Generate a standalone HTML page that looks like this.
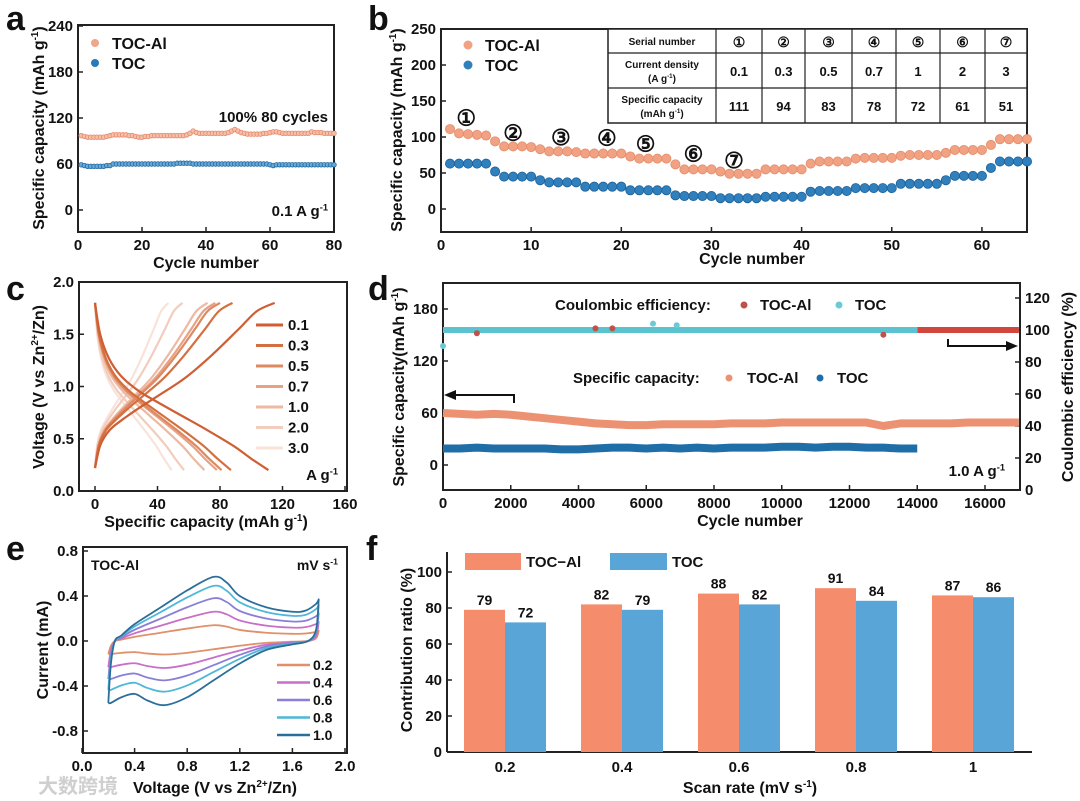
<!DOCTYPE html>
<html><head><meta charset="utf-8"><style>
html,body{margin:0;padding:0;background:#fff;}
svg{display:block;font-family:"Liberation Sans",Arial,sans-serif;}
text{font-weight:bold;}
</style></head><body>
<svg id="fig" width="1080" height="801" viewBox="0 0 1080 801" xmlns="http://www.w3.org/2000/svg"></svg>
<script>
// ---------- DATA ----------
const aCycles = Array.from({length:80},(_,i)=>i+1);
const aTocAl = [97,96,95,95,95,95,95,95,96,97,98,98,98,98,98,97,97,96,95,95,96,96,97,97,97,97,97,97,97,97,97,97,97,98,100,103,101,100,100,100,100,100,100,100,100,100,101,103,105,103,101,100,99,99,99,99,99,100,100,101,102,102,101,100,100,100,100,100,100,100,100,100,102,101,101,101,100,100,100,100];
const aToc = [59,58,57,57,57,57,57,57,58,58,60,60,60,60,60,60,60,60,60,60,60,60,60,60,60,60,60,60,60,60,61,61,61,61,61,60,60,60,60,60,60,60,60,60,60,60,60,60,60,60,60,60,60,60,60,60,60,60,60,59,58,59,59,59,59,59,59,59,59,59,59,59,59,59,59,59,59,59,59,59];
const aYTicks = [0,60,120,180,240];
const aXTicks = [0,20,40,60,80];

const bTocAl = [111,105,104,103,102,94,87,87,87,86,83,80,80,80,79,77,77,77,77,77,73,70,70,70,70,62,55,55,55,55,52,49,49,49,49,55,55,55,55,55,63,66,66,66,66,70,71,71,71,71,74,75,75,75,75,78,82,82,82,82,89,97,97,97,97];
const bToc = [63,63,63,63,63,52,45,45,45,45,40,37,37,37,37,31,31,31,31,31,26,26,26,26,26,19,18,18,18,18,15,15,15,15,15,17,17,17,17,17,24,25,25,25,25,29,29,29,29,29,35,35,35,35,35,40,46,46,46,46,57,66,66,66,66];
const bYTicks = [0,50,100,150,200,250];
const bXTicks = [0,10,20,30,40,50,60];
const bMarkLabels = ['①','②','③','④','⑤','⑥','⑦'];
const bMarkX = [2.8,8,13.3,18.4,22.7,28,32.5];
const bMarkY = [127,106,100,99,91,77,68];
const tblDensity = ['0.1','0.3','0.5','0.7','1','2','3'];
const tblCapacity = ['111','94','83','78','72','61','51'];

const cRates = ['0.1','0.3','0.5','0.7','1.0','2.0','3.0'];
const cDisCap = [111,87,81,78,70,57,49];
const cChgCap = [115,88,80,77,72,56,47];
const cFrac = [0,0.03,0.08,0.15,0.25,0.35,0.5,0.65,0.8,0.9,1];
const cDisV = [1.8,1.5,1.27,1.1,0.96,0.86,0.72,0.58,0.43,0.31,0.2];
const cChgV = [0.22,0.44,0.58,0.68,0.8,0.91,1.08,1.3,1.55,1.72,1.8];
const cXTicks = [0,40,80,120,160];
const cYTicks = [0,0.5,1.0,1.5,2.0];

const dCycles = Array.from({length:35},(_,i)=>i*500);
const dTocAl = [60,59,58,59,58,56,54,52,50,48,47,46,46,47,47,47,47,48,48,48,49,49,49,49,49,49,45,48,48,48,48,49,49,49,49];
const dToc = [19,19,20,19,19,19,19,18,18,19,20,20,19,20,19,20,19,20,20,20,21,21,20,21,21,20,20,19,19];
const dCeTocCycles = [0,14000];
const dCeToc = [100,100];
const dCeTocAlCycles = [14000,17000];
const dCeTocAl = [100,100];
const dOutX = [1000,13000,4500,5000];
const dOutY = [98,97,101,101];
const dOutTocX = [6200,6900,0];
const dOutTocY = [104,103,90];
const dXTicks = [0,2000,4000,6000,8000,10000,12000,14000,16000];
const dYTicks = [0,60,120,180];
const dY2Ticks = [0,20,40,60,80,100,120];

const eRates = ['0.2','0.4','0.6','0.8','1.0'];
const eAnodicPeak = [0.14,0.26,0.38,0.49,0.57];
const eCathodicPeak = [0.12,0.24,0.35,0.45,0.57];
const eUpV = [0.2,0.22,0.25,0.3,0.4,0.6,0.8,1.0,1.1,1.2,1.4,1.6,1.7,1.78,1.8];
const eUpI = [-0.55,-0.2,0.0,0.05,0.15,0.3,0.45,0.57,0.52,0.4,0.3,0.26,0.27,0.33,0.37];
const eDnV = [1.8,1.78,1.72,1.6,1.4,1.2,1.0,0.8,0.63,0.5,0.4,0.3,0.22,0.2];
const eDnI = [0.37,0.1,0.0,-0.03,-0.08,-0.2,-0.35,-0.5,-0.57,-0.53,-0.47,-0.5,-0.55,-0.55];
const eXTicks = [0.0,0.4,0.8,1.2,1.6,2.0];
const eYTicks = [-0.8,-0.4,0.0,0.4,0.8];

const fRates = ['0.2','0.4','0.6','0.8','1'];
const fTocAl = [79,82,88,91,87];
const fToc = [72,79,82,84,86];
const fYTicks = [0,20,40,60,80,100];

// ---------- HELPERS ----------
const svg = document.getElementById('fig');
const NS = 'http://www.w3.org/2000/svg';
function mk(tag, attrs, name, parent){
  const el = document.createElementNS(NS, tag);
  for (const k in attrs) el.setAttribute(k, attrs[k]);
  
  
  (parent||svg).appendChild(el);
  return el;
}
function txt(x,y,s,size,name,anchor,extra){
  const t = mk('text', Object.assign({x:x,y:y,'font-size':size,'text-anchor':anchor||'middle',fill:'#111'}, extra||{}), name);
  t.textContent = s;
  return t;
}
function supTxt(x,y,parts,size,name,anchor,rot){
  const a = {x:x,y:y,'font-size':size,'text-anchor':anchor||'middle',fill:'#111'};
  if (rot) a.transform = 'rotate(-90 '+x+' '+y+')';
  const t = mk('text', a, name);
  parts.forEach(p=>{
    const s = document.createElementNS(NS,'tspan');
    s.textContent = p[0];
    if (p[1]) { s.setAttribute('font-size', size*0.62); s.setAttribute('dy', -size*0.38); }
    else if (p[2]) { s.setAttribute('dy', size*0.38); }
    t.appendChild(s);
  });
  return t;
}
function lin(d0,d1,p0,p1){ return v => p0 + (v-d0)*(p1-p0)/(d1-d0); }
function smooth(pts){
  let d='M'+pts[0][0]+','+pts[0][1];
  for(let i=0;i<pts.length-1;i++){
    const p0=pts[Math.max(0,i-1)],p1=pts[i],p2=pts[i+1],p3=pts[Math.min(pts.length-1,i+2)];
    const c1=[p1[0]+(p2[0]-p0[0])/6,p1[1]+(p2[1]-p0[1])/6];
    const c2=[p2[0]-(p3[0]-p1[0])/6,p2[1]-(p3[1]-p1[1])/6];
    d+=' C'+c1[0]+','+c1[1]+' '+c2[0]+','+c2[1]+' '+p2[0]+','+p2[1];
  }
  return d;
}
function frame(x0,y0,x1,y1,name){
  mk('rect',{x:x0,y:y0,width:x1-x0,height:y1-y0,fill:'none',stroke:'#222','stroke-width':2},name);
}
function xTicks(ticks,X,yb,name,fmt){
  ticks.forEach(t=>{
    mk('line',{x1:X(t),x2:X(t),y1:yb,y2:yb-5,stroke:'#222','stroke-width':1.5},name+'-tick');
    txt(X(t),yb+18,fmt?fmt(t):String(t),15,name+'-label');
  });
}
function yTicks(ticks,Y,xl,name,fmt,right){
  ticks.forEach(t=>{
    mk('line',{x1:xl,x2:right?xl-5:xl+5,y1:Y(t),y2:Y(t),stroke:'#222','stroke-width':1.5},name+'-tick');
    txt(right?xl+5:xl-5,Y(t)+5,fmt?fmt(t):String(t),15,name+'-label',right?'start':'end');
  });
}
function panelLetter(x,y,s){ txt(x,y,s,34,'panel-label-'+s,'start'); }

// ---------- PANEL A ----------
(function(){
  const X = lin(0,80,78,334), Y = lin(0,60,210,164);
  frame(78,25,334,232,'panel-a-frame');
  xTicks(aXTicks,X,232,'panel-a-x-tick');
  yTicks(aYTicks,Y,78,'panel-a-y-tick');
  aTocAl.forEach((v,i)=>mk('circle',{cx:X(aCycles[i]),cy:Y(v),r:2.3,fill:'#f6c0a8',stroke:'#e8876a','stroke-width':0.8},'panel-a-tocal-point'));
  aToc.forEach((v,i)=>mk('circle',{cx:X(aCycles[i]),cy:Y(v),r:2.3,fill:'#6aa8d6',stroke:'#1f6aa5','stroke-width':0.8},'panel-a-toc-point'));
  mk('circle',{cx:95,cy:43,r:4,fill:'#f0a68a'},'panel-a-legend-tocal-marker');
  txt(112,49,'TOC-Al',16,'panel-a-legend-tocal','start');
  mk('circle',{cx:95,cy:63,r:4,fill:'#2a7ab8'},'panel-a-legend-toc-marker');
  txt(112,69,'TOC',16,'panel-a-legend-toc','start');
  txt(328,122,'100% 80 cycles',15,'panel-a-annotation','end');
  supTxt(328,216,[['0.1 A g'],['-1',1]],15,'panel-a-current-label','end');
  supTxt(44,128,[['Specific capacity (mAh g'],['-1',1],[')',0,1]],16,'panel-a-y-axis-title','middle',true);
  txt(206,268,'Cycle number',16,'panel-a-x-axis-title');
  panelLetter(6,30,'a');
})();

// ---------- PANEL B ----------
(function(){
  const X = lin(0,65,441,1027), Y = lin(0,50,209,173);
  frame(441,29,1027,232,'panel-b-frame');
  xTicks(bXTicks,X,232,'panel-b-x-tick');
  yTicks(bYTicks,Y,441,'panel-b-y-tick');
  bTocAl.forEach((v,i)=>mk('circle',{cx:X(i+1),cy:Y(v),r:4.6,fill:'#f0a283',stroke:'#e58c6a','stroke-width':0.8},'panel-b-tocal-point'));
  bToc.forEach((v,i)=>mk('circle',{cx:X(i+1),cy:Y(v),r:4.6,fill:'#2f80bd',stroke:'#1d6099','stroke-width':0.8},'panel-b-toc-point'));
  bMarkLabels.forEach((s,i)=>txt(X(bMarkX[i]),Y(bMarkY[i])+8,s,22,'panel-b-step-marker',null,{'font-weight':'normal'}));
  mk('circle',{cx:468,cy:45,r:4.5,fill:'#f0a283'},'panel-b-legend-tocal-marker');
  txt(485,51,'TOC-Al',16,'panel-b-legend-tocal','start');
  mk('circle',{cx:468,cy:65,r:4.5,fill:'#2f80bd'},'panel-b-legend-toc-marker');
  txt(485,71,'TOC',16,'panel-b-legend-toc','start');
  const cols=[608,716,762,805,852,896,940,985,1027], rows=[29,53,88,123];
  mk('rect',{x:608,y:29,width:419,height:94,fill:'#fff',stroke:'#222','stroke-width':1.5},'panel-b-table');
  cols.slice(1,-1).forEach(c=>mk('line',{x1:c,x2:c,y1:29,y2:123,stroke:'#222','stroke-width':1.2},'panel-b-table-col-line'));
  rows.slice(1,-1).forEach(r=>mk('line',{x1:608,x2:1027,y1:r,y2:r,stroke:'#222','stroke-width':1.2},'panel-b-table-row-line'));
  txt(662,45,'Serial number',10,'panel-b-table-header');
  txt(662,68,'Current density',10,'panel-b-table-header');
  supTxt(662,82,[['(A g'],['-1',1],[')',0,1]],10,'panel-b-table-header');
  txt(662,103,'Specific capacity',10,'panel-b-table-header');
  supTxt(662,117,[['(mAh g'],['-1',1],[')',0,1]],10,'panel-b-table-header');
  for(let i=0;i<7;i++){
    const cx=(cols[i+1]+cols[i+2])/2;
    txt(cx,47,bMarkLabels[i],14,'panel-b-table-serial',null,{'font-weight':'normal'});
    txt(cx,76,tblDensity[i],13,'panel-b-table-density');
    txt(cx,111,tblCapacity[i],13,'panel-b-table-capacity');
  }
  supTxt(402,130,[['Specific capacity (mAh g'],['-1',1],[')',0,1]],16,'panel-b-y-axis-title','middle',true);
  txt(752,264,'Cycle number',16,'panel-b-x-axis-title');
  panelLetter(368,30,'b');
})();

// ---------- PANEL C ----------
(function(){
  const X = lin(0,160,95,345), Y = lin(0,2,491,282);
  const cols=['#cf5f33','#d4703f','#dd8a63','#e6a283','#ecb9a2','#f2cdbd','#f8e3da'];
  for(let k=cRates.length-1;k>=0;k--){
    let p=cFrac.map((f,i)=>[X(f*cDisCap[k]),Y(cDisV[i])]);
    mk('path',{d:smooth(p),fill:'none',stroke:cols[k],'stroke-width':2.2},'panel-c-discharge-'+cRates[k]);
    p=cFrac.map((f,i)=>[X(f*cChgCap[k]),Y(cChgV[i])]);
    mk('path',{d:smooth(p),fill:'none',stroke:cols[k],'stroke-width':2.2},'panel-c-charge-'+cRates[k]);
  }
  frame(79,282,347,491,'panel-c-frame');
  xTicks(cXTicks,X,491,'panel-c-x-tick');
  yTicks(cYTicks,Y,79,'panel-c-y-tick',t=>t.toFixed(1));
  cRates.forEach((r,i)=>{
    const y=325+i*20.5;
    mk('line',{x1:256,x2:283,y1:y,y2:y,stroke:cols[i],'stroke-width':3},'panel-c-legend-line');
    txt(288,y+5,r,15,'panel-c-legend-label','start');
  });
  supTxt(338,480,[['A g'],['-1',1]],15,'panel-c-unit-label','end');
  supTxt(44,387,[['Voltage (V vs Zn'],['2+',1],['/Zn)',0,1]],16,'panel-c-y-axis-title','middle',true);
  supTxt(206,527,[['Specific capacity (mAh g'],['-1',1],[')',0,1]],16,'panel-c-x-axis-title');
  panelLetter(6,300,'c');
})();

// ---------- PANEL D ----------
(function(){
  const X = lin(0,16000,443,985), Y = lin(0,60,465,413), Y2 = lin(0,120,490,298);
  frame(443,283,1020,490,'panel-d-frame');
  xTicks(dXTicks,X,490,'panel-d-x-tick');
  yTicks(dYTicks,Y,443,'panel-d-y-tick');
  yTicks(dY2Ticks,Y2,1020,'panel-d-y2-tick',null,true);
  mk('polyline',{points:dTocAl.map((v,i)=>X(dCycles[i])+','+Y(v)).join(' '),fill:'none',stroke:'#ec9273','stroke-width':8,'stroke-linejoin':'round'},'panel-d-capacity-tocal');
  mk('polyline',{points:dToc.map((v,i)=>X(dCycles[i])+','+Y(v)).join(' '),fill:'none',stroke:'#1f6ea8','stroke-width':8,'stroke-linejoin':'round'},'panel-d-capacity-toc');
  mk('polyline',{points:dCeTocAl.map((v,i)=>X(dCeTocAlCycles[i])+','+Y2(v)).join(' '),fill:'none',stroke:'#d2463d','stroke-width':6},'panel-d-ce-tocal');
  mk('polyline',{points:dCeToc.map((v,i)=>X(dCeTocCycles[i])+','+Y2(v)).join(' '),fill:'none',stroke:'#5bc2d0','stroke-width':6},'panel-d-ce-toc');
  dOutX.forEach((c,i)=>mk('circle',{cx:X(c),cy:Y2(dOutY[i]),r:3,fill:'#c0504a'},'panel-d-ce-tocal-outlier'));
  dOutTocX.forEach((c,i)=>mk('circle',{cx:X(c),cy:Y2(dOutTocY[i]),r:3,fill:'#6ccad6'},'panel-d-ce-toc-outlier'));
  mk('polyline',{points:'514,403 514,395 452,395',fill:'none',stroke:'#111','stroke-width':2},'panel-d-left-arrow');
  mk('polygon',{points:'444,395 456,390 456,400',fill:'#111'},'panel-d-left-arrowhead');
  mk('polyline',{points:'948,339 948,346 1008,346',fill:'none',stroke:'#111','stroke-width':2},'panel-d-right-arrow');
  mk('polygon',{points:'1018,346 1006,341 1006,351',fill:'#111'},'panel-d-right-arrowhead');
  txt(555,310,'Coulombic efficiency:',15,'panel-d-legend-ce-title','start');
  mk('circle',{cx:744,cy:305,r:3.5,fill:'#c0504a'},'panel-d-legend-ce-tocal-marker');
  txt(760,310,'TOC-Al',15,'panel-d-legend-ce-tocal','start');
  mk('circle',{cx:839,cy:305,r:3.5,fill:'#6ccad6'},'panel-d-legend-ce-toc-marker');
  txt(855,310,'TOC',15,'panel-d-legend-ce-toc','start');
  txt(573,383,'Specific capacity:',15,'panel-d-legend-cap-title','start');
  mk('circle',{cx:729,cy:378,r:3.5,fill:'#ec9273'},'panel-d-legend-cap-tocal-marker');
  txt(747,383,'TOC-Al',15,'panel-d-legend-cap-tocal','start');
  mk('circle',{cx:820,cy:378,r:3.5,fill:'#1f6ea8'},'panel-d-legend-cap-toc-marker');
  txt(837,383,'TOC',15,'panel-d-legend-cap-toc','start');
  supTxt(1005,476,[['1.0 A g'],['-1',1]],15,'panel-d-current-label','end');
  supTxt(404,387,[['Specific capacity(mAh g'],['-1',1],[')',0,1]],16,'panel-d-y-axis-title','middle',true);
  const t=txt(1067,387,'Coulombic efficiency (%)',16,'panel-d-y2-axis-title','middle',{transform:'rotate(-90 1067 387)'});
  t.setAttribute('dy','6');
  txt(750,526,'Cycle number',16,'panel-d-x-axis-title');
  panelLetter(368,300,'d');
})();

// ---------- PANEL E ----------
(function(){
  const X = lin(0,2,82,345), Y = lin(0,0.4,641,596);
  const cols=['#e0906a','#c86fc8','#8a7fd8','#4fb7d8','#2a6f9a'];
  eRates.forEach((r,k)=>{
    const sa=eAnodicPeak[k]/0.57, sc=eCathodicPeak[k]/0.57;
    const up=eUpV.map((v,i)=>[X(v),Y(eUpI[i]*(eUpI[i]>0?sa:sc))]);
    const dn=eDnV.map((v,i)=>[X(v),Y(eDnI[i]*(eDnI[i]>0?sa:sc))]);
    mk('path',{d:smooth(up)+' '+smooth(dn).replace('M','L'),fill:'none',stroke:cols[k],'stroke-width':1.8,'stroke-linejoin':'round'},'panel-e-cv-'+r);
    const y=665+k*17.5;
    mk('line',{x1:277,x2:310,y1:y,y2:y,stroke:cols[k],'stroke-width':2.5},'panel-e-legend-line');
    txt(313,y+5,r,14,'panel-e-legend-label','start');
  });
  frame(83,547,347,753,'panel-e-frame');
  xTicks(eXTicks,X,753,'panel-e-x-tick',t=>t.toFixed(1));
  yTicks(eYTicks,Y,83,'panel-e-y-tick',t=>t.toFixed(1));
  txt(91,570,'TOC-Al',14,'panel-e-sample-label','start');
  supTxt(338,570,[['mV s'],['-1',1]],14,'panel-e-unit-label','end');
  txt(42,650,'Current (mA)',16,'panel-e-y-axis-title','middle',{transform:'rotate(-90 42 650)'}).setAttribute('dy','6');
  supTxt(215,793,[['Voltage (V vs Zn'],['2+',1],['/Zn)',0,1]],16,'panel-e-x-axis-title');
  txt(38,793,'大数跨境',20,'watermark','start',{fill:'#cfcfcf','font-weight':'normal','font-family':'"Noto Sans CJK SC",sans-serif'});
  panelLetter(6,560,'e');
})();

// ---------- PANEL F ----------
(function(){
  const Y = lin(0,100,752,572);
  const X0 = 505, step = 117, bw = 41;
  mk('line',{x1:447,x2:1032,y1:752,y2:752,stroke:'#222','stroke-width':2},'panel-f-x-axis');
  mk('line',{x1:447,x2:447,y1:552,y2:752,stroke:'#222','stroke-width':2},'panel-f-y-axis');
  fYTicks.forEach(t=>{
    mk('line',{x1:447,x2:452,y1:Y(t),y2:Y(t),stroke:'#222','stroke-width':1.5},'panel-f-y-tick');
    txt(442,Y(t)+5,String(t),15,'panel-f-y-tick-label','end');
  });
  fRates.forEach((r,i)=>{
    const cx=X0+i*step;
    mk('rect',{x:cx-bw,y:Y(fTocAl[i]),width:bw,height:752-Y(fTocAl[i]),fill:'#f58c6c'},'panel-f-bar-tocal-'+r);
    mk('rect',{x:cx,y:Y(fToc[i]),width:bw,height:752-Y(fToc[i]),fill:'#5aa5d8'},'panel-f-bar-toc-'+r);
    txt(cx-bw/2,Y(fTocAl[i])-5,String(fTocAl[i]),14,'panel-f-value-tocal');
    txt(cx+bw/2,Y(fToc[i])-5,String(fToc[i]),14,'panel-f-value-toc');
    txt(cx,772,r,15,'panel-f-x-tick-label');
  });
  mk('rect',{x:465,y:553,width:56,height:17,fill:'#f58c6c'},'panel-f-legend-tocal-swatch');
  txt(526,567,'TOC−Al',15,'panel-f-legend-tocal','start',{'font-weight':'normal'});
  mk('rect',{x:610,y:553,width:57,height:17,fill:'#5aa5d8'},'panel-f-legend-toc-swatch');
  txt(672,567,'TOC',15,'panel-f-legend-toc','start',{'font-weight':'normal'});
  txt(406,650,'Contribution ratio (%)',16,'panel-f-y-axis-title','middle',{transform:'rotate(-90 406 650)'}).setAttribute('dy','6');
  supTxt(750,793,[['Scan rate (mV s'],['-1',1],[')',0,1]],16,'panel-f-x-axis-title');
  panelLetter(366,560,'f');
})();
</script>
</body></html>
